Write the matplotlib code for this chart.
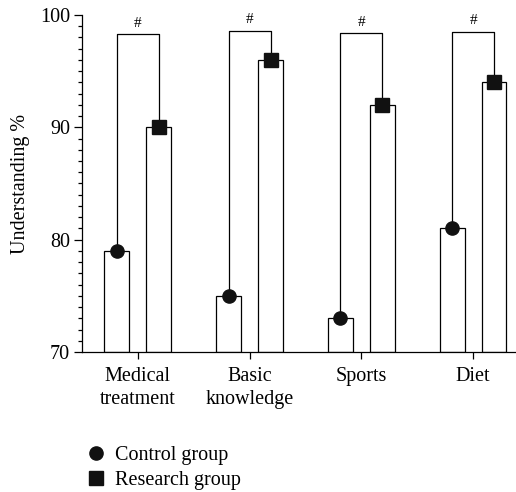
import matplotlib
matplotlib.use("Agg")
import matplotlib.pyplot as plt
import numpy as np
from matplotlib.lines import Line2D

plt.rcParams['font.family'] = ['Liberation Serif', 'DejaVu Serif']

categories = ["Medical\ntreatment", "Basic\nknowledge", "Sports", "Diet"]
control = [79, 75, 73, 81]
research = [90, 96, 92, 94]
bracket_top = [98.3, 98.6, 98.35, 98.5]
sig_marks = ["#", "#", "#", "#"]

fig = plt.figure(figsize=(5.16, 4.92), dpi=100)
ax = fig.add_axes([0.159, 0.2846, 0.866, 0.685])

x = np.arange(len(categories))
off = 0.1875
w = 0.223
lw = 0.9
fs = 14.5

ax.bar(x - off, np.array(control) - 70, w, bottom=70, color="white",
       edgecolor="black", linewidth=lw, zorder=2)
ax.bar(x + off, np.array(research) - 70, w, bottom=70, color="white",
       edgecolor="black", linewidth=lw, zorder=2)

for i in range(len(categories)):
    ax.plot([x[i] - off, x[i] - off, x[i] + off, x[i] + off],
            [control[i], bracket_top[i], bracket_top[i], research[i]],
            color="black", linewidth=lw, zorder=3)
    ax.text(x[i], bracket_top[i] + 0.4, sig_marks[i], ha="center",
            va="bottom", fontsize=11)

ax.plot(x - off, control, linestyle="none", marker="o", markersize=9.5,
        color="#111111", zorder=4)
ax.plot(x + off, research, linestyle="none", marker="s", markersize=10,
        color="#111111", zorder=4)

ax.set_ylim(70, 100)
ax.set_xlim(-0.5, 3.5)
ax.set_yticks([70, 80, 90, 100])
ax.set_yticks(np.arange(70, 101, 1), minor=True)
ax.set_xticks(x)
ax.set_xticklabels(categories, fontsize=fs, linespacing=1.25)
ax.tick_params(axis="y", labelsize=fs, length=6, width=lw, direction="out", pad=2.5)
ax.tick_params(axis="y", which="minor", length=3, width=lw)
ax.tick_params(axis="x", length=5, width=lw, pad=6)
ax.set_ylabel("Understanding %", fontsize=fs, labelpad=7)

for s in ["top", "right"]:
    ax.spines[s].set_visible(False)
for s in ["left", "bottom"]:
    ax.spines[s].set_linewidth(lw)

handles = [
    Line2D([], [], linestyle="none", marker="o", markersize=9.5, color="#111111"),
    Line2D([], [], linestyle="none", marker="s", markersize=10, color="#111111"),
]
fig.legend(handles, ["Control group", "Research group"], loc="upper left",
           bbox_to_anchor=(0.171, 0.093), frameon=False, fontsize=fs,
           handlelength=0.8, handletextpad=0.55, labelspacing=0.3,
           borderpad=0, borderaxespad=0)

fig.savefig("out.png", dpi=100)
